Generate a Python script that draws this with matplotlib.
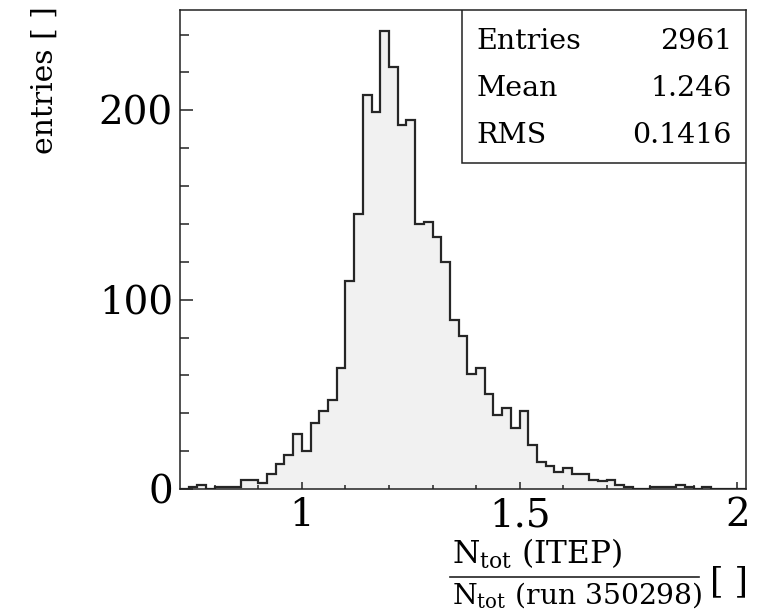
import numpy as np
import matplotlib
matplotlib.use("Agg")
import matplotlib.pyplot as plt
from matplotlib.patches import Rectangle
from matplotlib.ticker import MultipleLocator, FixedLocator
from matplotlib.lines import Line2D

# ---- data ----
bin_lo = 0.72
bin_width = 0.02
counts = [0, 1, 2, 0, 1, 1, 1, 5, 5, 3,
          8, 13, 18, 29, 20, 35, 41, 47, 64, 110,
          145, 208, 199, 242, 223, 192, 195, 140, 141, 133,
          120, 89, 81, 61, 64, 50, 39, 43, 32, 41,
          23, 14, 12, 9, 11, 8, 8, 5, 4, 5,
          2, 1, 0, 0, 1, 1, 1, 2, 1, 0,
          1, 0, 0, 0, 0]
edges = bin_lo + bin_width * np.arange(len(counts) + 1)
xticks_major = [1.0, 1.5, 2.0]
xtick_labels = ["1", "1.5", "2"]
yticks_major = [0, 100, 200]
ytick_labels = ["0", "100", "200"]
stat_names = ["Entries", "Mean", "RMS"]
stat_values = ["2961", "1.246", "0.1416"]

plt.rcParams['font.family'] = ['DejaVu Serif']
plt.rcParams['mathtext.fontset'] = 'dejavuserif'

W, H = 757, 613
fig = plt.figure(figsize=(W / 100, H / 100), dpi=100)
ax = fig.add_axes([180 / W, 1 - 489 / H, 566 / W, 479 / H])

ax.stairs(counts, edges, fill=True, color='#f1f1f1', zorder=1)
ax.stairs(counts, edges, color='#262626', linewidth=1.6, zorder=2)

ax.set_xlim(0.72, 2.02)
ax.set_ylim(0, 253)

ax.xaxis.set_major_locator(FixedLocator(xticks_major))
ax.set_xticklabels(xtick_labels)
ax.xaxis.set_minor_locator(MultipleLocator(0.1))
ax.yaxis.set_major_locator(FixedLocator(yticks_major))
ax.set_yticklabels(ytick_labels)
ax.yaxis.set_minor_locator(MultipleLocator(20))

ax.tick_params(axis='both', which='both', direction='in', top=False, right=False,
               color='#222222', width=1.1, labelsize=28)
ax.tick_params(axis='y', which='major', length=9.4, pad=5)
ax.tick_params(axis='y', which='minor', length=6.5)
ax.tick_params(axis='x', which='major', length=5, pad=6)
ax.tick_params(axis='x', which='minor', length=2.9)
for s in ax.spines.values():
    s.set_linewidth(1.1)
    s.set_color('#222222')

# stats box
bx0, by0 = 0.498, 0.681
ax.add_patch(Rectangle((bx0, by0), 1 - bx0, 1 - by0, transform=ax.transAxes,
                       facecolor='white', edgecolor='#222222', linewidth=1.1, zorder=5))
row_y = [0.9186, 0.8205, 0.7223]
for name, val, yy in zip(stat_names, stat_values, row_y):
    ax.text(0.524, yy, name, transform=ax.transAxes, ha='left', va='baseline',
            fontsize=20.5, zorder=6)
    ax.text(0.975, yy, val, transform=ax.transAxes, ha='right', va='baseline',
            fontsize=20.5, zorder=6)

# y label
fig.text(45 / W, 1 - 80 / H, "entries [ ]", rotation=90, ha='center', va='center',
         fontsize=21.5)

# x label as fraction
fig.text(452 / W, 1 - 564 / H, r"N$_{\mathrm{tot}}$ (ITEP)", ha='left', va='baseline',
         fontsize=22.5)
fig.add_artist(Line2D([450 / W, 699 / W], [1 - 577 / H, 1 - 577 / H],
                      transform=fig.transFigure, color='#222222', linewidth=1.2))
fig.text(452 / W, 1 - 603 / H, r"N$_{\mathrm{tot}}$ (run 350298)", ha='left', va='baseline',
         fontsize=20.3)
fig.text(729 / W, 1 - 582 / H, "[ ]", ha='center', va='center', fontsize=25)

fig.savefig("out.png", dpi=100)
